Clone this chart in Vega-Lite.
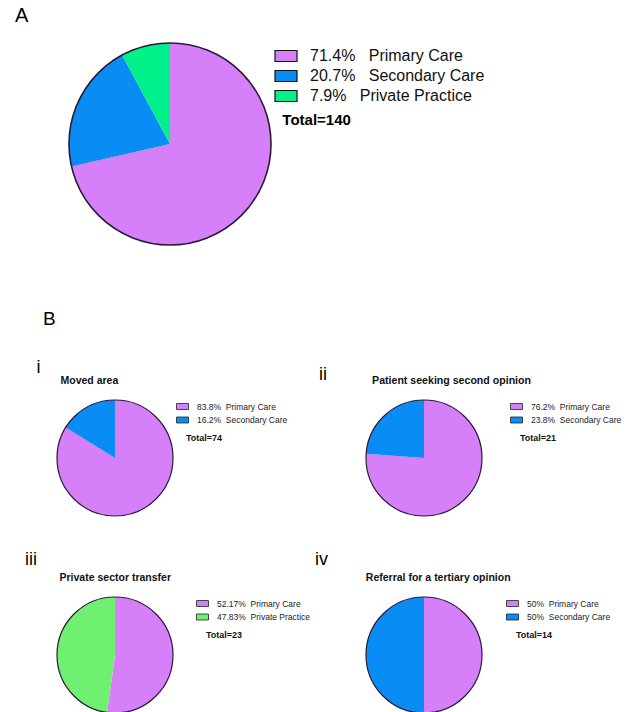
{
  "$schema": "https://vega.github.io/schema/vega-lite/v6.json",
  "padding": {"left": 15, "top": 5, "right": 5, "bottom": 5},
  "background": "white",
  "config": {
    "font": "Liberation Sans",
    "view": {"stroke": null},
    "title": {"anchor": "start", "color": "#000000", "fontWeight": "normal", "font": "Liberation Sans", "subtitleFont": "Liberation Sans"},
    "legend": {"labelFont": "Liberation Sans", "titleFont": "Liberation Sans", "labelLimit": 0, "titleLimit": 0}
  },
  "datasets": {
    "main": [
      {"panel": "A", "category": "Primary Care", "label": "71.4% Primary Care", "n": 100, "order": 1},
      {"panel": "A", "category": "Secondary Care", "label": "20.7% Secondary Care", "n": 29, "order": 2},
      {"panel": "A", "category": "Private Practice", "label": "7.9% Private Practice", "n": 11, "order": 3},
      {"panel": "i", "category": "Primary Care", "label": "83.8% Primary Care", "n": 62, "order": 1},
      {"panel": "i", "category": "Secondary Care", "label": "16.2% Secondary Care", "n": 12, "order": 2},
      {"panel": "ii", "category": "Primary Care", "label": "76.2% Primary Care", "n": 16, "order": 1},
      {"panel": "ii", "category": "Secondary Care", "label": "23.8% Secondary Care", "n": 5, "order": 2},
      {"panel": "iii", "category": "Primary Care", "label": "52.17% Primary Care", "n": 12, "order": 1},
      {"panel": "iii", "category": "Private Practice", "label": "47.83% Private Practice", "n": 11, "order": 2},
      {"panel": "iv", "category": "Primary Care", "label": "50% Primary Care", "n": 7, "order": 1},
      {"panel": "iv", "category": "Secondary Care", "label": "50% Secondary Care", "n": 7, "order": 2}
    ]
  },
  "data": {"name": "main"},
  "columns": 2,
  "bounds": "flush",
  "spacing": {"row": 81, "column": 83},
  "resolve": {"scale": {"color": "independent", "theta": "independent"}, "legend": {"color": "independent"}},
  "concat": [
    {
      "width": 226, "height": 202,
      "title": {"text": "A", "fontSize": 20, "dx": -42, "offset": 14},
      "transform": [{"filter": "datum.panel === 'A'"}],
      "layer": [
        {
          "mark": {"type": "arc", "strokeWidth": 0},
          "encoding": {
            "theta": {"field": "n", "type": "quantitative", "stack": true},
            "order": {"field": "order", "type": "quantitative"},
            "color": {
              "field": "label", "type": "nominal", "sort": {"field": "order", "op": "min"},
              "scale": {"range": ["#D580F8", "#0A8CF5", "#00F08A"]},
              "legend": {
                "title": "\u200b\u00a0\u00a0Total=140", "titleOrient": "bottom", "titleFontSize": 15, "titleFontWeight": "bold",
                "titleColor": "#000000", "titlePadding": 9,
                "labelFontSize": 16, "labelColor": "#111111", "labelOffset": 12,
                "labelExpr": "replace(datum.label, ' ', '\u00a0\u00a0\u00a0')",
                "symbolType": "M-1,-0.5H1V0.5H-1Z", "symbolSize": 484,
                "symbolStrokeColor": "#111111", "symbolStrokeWidth": 1.2,
                "rowPadding": -0.5, "offset": -10, "padding": 1
              }
            }
          }
        },
        {
          "mark": {"type": "arc", "filled": false, "stroke": "#2B1A35", "strokeWidth": 1.6},
          "encoding": {"theta": {"aggregate": "sum", "field": "n", "type": "quantitative"}}
        }
      ]
    },
    {
      "width": 116, "height": 276,
      "title": {"text": "B", "fontSize": 19, "orient": "bottom", "dx": -323, "dy": -9, "offset": 0},
      "transform": [{"filter": "datum.panel === 'none'"}],
      "mark": {"type": "point", "opacity": 0},
      "encoding": {}
    },
    {
      "width": 116, "height": 116,
      "title": {
        "text": "i", "fontSize": 18, "dx": -18, "offset": 11,
        "subtitle": "\u200b\u2003\u2003\u00a0Moved area", "subtitleFontSize": 10.5, "subtitleFontWeight": "bold",
        "subtitleColor": "#111111", "subtitlePadding": -0.6
      },
      "transform": [{"filter": "datum.panel === 'i'"}],
      "layer": [
        {
          "mark": {"type": "arc", "strokeWidth": 0},
          "encoding": {
            "theta": {"field": "n", "type": "quantitative", "stack": true},
            "order": {"field": "order", "type": "quantitative"},
            "color": {
              "field": "label", "type": "nominal", "sort": {"field": "order", "op": "min"},
              "scale": {"range": ["#D580F8", "#0A8CF5"]},
              "legend": {
                "title": "\u200b\u00a0\u00a0\u00a0\u00a0Total=74", "titleOrient": "bottom", "titleFontSize": 9, "titleFontWeight": "bold",
                "titleColor": "#111111", "titlePadding": 9,
                "labelFontSize": 8.5, "labelColor": "#222222", "labelOffset": 8,
                "labelExpr": "replace(datum.label, ' ', '\u00a0\u00a0')",
                "symbolType": "M-1,-0.5H1V0.5H-1Z", "symbolSize": 144,
                "symbolStrokeColor": "#222222", "symbolStrokeWidth": 0.8,
                "rowPadding": 1.5, "offset": 3, "padding": 0
              }
            }
          }
        },
        {
          "mark": {"type": "arc", "filled": false, "stroke": "#2B1A35", "strokeWidth": 1.2},
          "encoding": {"theta": {"aggregate": "sum", "field": "n", "type": "quantitative"}}
        }
      ]
    },
    {
      "width": 116, "height": 116,
      "title": {
        "text": "ii", "fontSize": 18, "dx": -44.5, "offset": 11,
        "subtitle": "\u200b\u2003\u2003\u2003\u2003\u2003Patient seeking second opinion", "subtitleFontSize": 10.6, "subtitleFontWeight": "bold",
        "subtitleColor": "#111111", "subtitlePadding": -7.6
      },
      "transform": [{"filter": "datum.panel === 'ii'"}],
      "layer": [
        {
          "mark": {"type": "arc", "strokeWidth": 0},
          "encoding": {
            "theta": {"field": "n", "type": "quantitative", "stack": true},
            "order": {"field": "order", "type": "quantitative"},
            "color": {
              "field": "label", "type": "nominal", "sort": {"field": "order", "op": "min"},
              "scale": {"range": ["#D580F8", "#0A8CF5"]},
              "legend": {
                "title": "\u200b\u00a0\u00a0\u00a0\u00a0Total=21", "titleOrient": "bottom", "titleFontSize": 9, "titleFontWeight": "bold",
                "titleColor": "#111111", "titlePadding": 9,
                "labelFontSize": 8.5, "labelColor": "#222222", "labelOffset": 8,
                "labelExpr": "replace(datum.label, ' ', '\u00a0\u00a0')",
                "symbolType": "M-1,-0.5H1V0.5H-1Z", "symbolSize": 144,
                "symbolStrokeColor": "#222222", "symbolStrokeWidth": 0.8,
                "rowPadding": 1.5, "offset": 28, "padding": 0
              }
            }
          }
        },
        {
          "mark": {"type": "arc", "filled": false, "stroke": "#2B1A35", "strokeWidth": 1.2},
          "encoding": {"theta": {"aggregate": "sum", "field": "n", "type": "quantitative"}}
        }
      ]
    },
    {
      "width": 116, "height": 116,
      "title": {
        "text": "iii", "fontSize": 18, "dx": -29.5, "offset": 11,
        "subtitle": "\u200b\u2003\u2003\u2003\u00a0Private sector transfer", "subtitleFontSize": 10.5, "subtitleFontWeight": "bold",
        "subtitleColor": "#111111", "subtitlePadding": 4.4
      },
      "transform": [{"filter": "datum.panel === 'iii'"}],
      "layer": [
        {
          "mark": {"type": "arc", "strokeWidth": 0},
          "encoding": {
            "theta": {"field": "n", "type": "quantitative", "stack": true},
            "order": {"field": "order", "type": "quantitative"},
            "color": {
              "field": "label", "type": "nominal", "sort": {"field": "order", "op": "min"},
              "scale": {"range": ["#D580F8", "#70F070"]},
              "legend": {
                "title": "\u200b\u00a0\u00a0\u00a0\u00a0Total=23", "titleOrient": "bottom", "titleFontSize": 9, "titleFontWeight": "bold",
                "titleColor": "#111111", "titlePadding": 9,
                "labelFontSize": 8.5, "labelColor": "#222222", "labelOffset": 8,
                "labelExpr": "replace(datum.label, ' ', '\u00a0\u00a0')",
                "symbolType": "M-1,-0.5H1V0.5H-1Z", "symbolSize": 144,
                "symbolStrokeColor": "#222222", "symbolStrokeWidth": 0.8,
                "rowPadding": 1.5, "offset": 23, "padding": 0
              }
            }
          }
        },
        {
          "mark": {"type": "arc", "filled": false, "stroke": "#2B1A35", "strokeWidth": 1.2},
          "encoding": {"theta": {"aggregate": "sum", "field": "n", "type": "quantitative"}}
        }
      ]
    },
    {
      "width": 116, "height": 116,
      "title": {
        "text": "iv", "fontSize": 18, "dx": -48.5, "offset": 11,
        "subtitle": "\u200b\u2003\u2003\u2003\u2003\u00a0\u00a0\u00a0Referral for a tertiary opinion", "subtitleFontSize": 10.5, "subtitleFontWeight": "bold",
        "subtitleColor": "#111111", "subtitlePadding": 4.4
      },
      "transform": [{"filter": "datum.panel === 'iv'"}],
      "layer": [
        {
          "mark": {"type": "arc", "strokeWidth": 0},
          "encoding": {
            "theta": {"field": "n", "type": "quantitative", "stack": true},
            "order": {"field": "order", "type": "quantitative"},
            "color": {
              "field": "label", "type": "nominal", "sort": {"field": "order", "op": "min"},
              "scale": {"range": ["#D580F8", "#0A8CF5"]},
              "legend": {
                "title": "\u200b\u00a0\u00a0\u00a0\u00a0Total=14", "titleOrient": "bottom", "titleFontSize": 9, "titleFontWeight": "bold",
                "titleColor": "#111111", "titlePadding": 9,
                "labelFontSize": 8.5, "labelColor": "#222222", "labelOffset": 8,
                "labelExpr": "replace(datum.label, ' ', '\u00a0\u00a0')",
                "symbolType": "M-1,-0.5H1V0.5H-1Z", "symbolSize": 144,
                "symbolStrokeColor": "#222222", "symbolStrokeWidth": 0.8,
                "rowPadding": 1.5, "offset": 24, "padding": 0
              }
            }
          }
        },
        {
          "mark": {"type": "arc", "filled": false, "stroke": "#2B1A35", "strokeWidth": 1.2},
          "encoding": {"theta": {"aggregate": "sum", "field": "n", "type": "quantitative"}}
        }
      ]
    }
  ]
}
